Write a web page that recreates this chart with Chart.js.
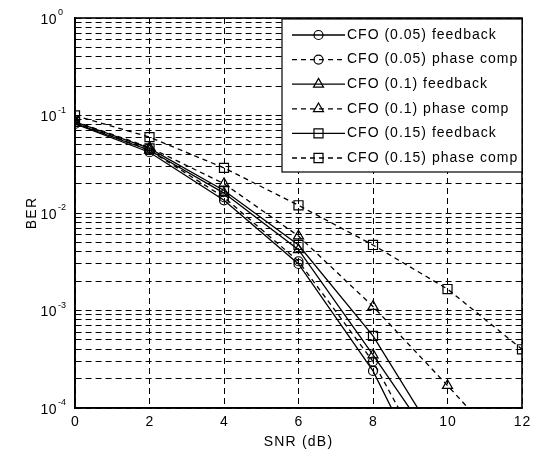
<!DOCTYPE html>
<html>
<head>
<meta charset="utf-8">
<title>BER vs SNR</title>
<script src="https://cdn.jsdelivr.net/npm/chart.js@4/dist/chart.umd.min.js"></script>
<style>
  html, body { margin: 0; padding: 0; background: #fff; }
  #wrap { width: 543px; height: 456px; }
</style>
</head>
<body>
<div id="wrap"><canvas id="berChart" width="543" height="456"></canvas></div>
<script>
// SNR points (dB)
const snr = [0, 2, 4, 6, 8, 10, 12];
const xTicks = [0, 2, 4, 6, 8, 10, 12];
const decades = [-4, -3, -2, -1, 0];
const minorSteps = [2, 3, 4, 5, 6, 7, 8, 9];

// BER (values below 1e-4 only set where a line leaves the plot)
const cfo005Feedback = [0.082, 0.042, 0.0135, 0.0030, 0.00024, 0.000007, null];
const cfo005Phase = [0.085, 0.044, 0.0145, 0.0032, 0.0003, 0.000012, null];
const cfo01Feedback = [0.083, 0.044, 0.016, 0.0042, 0.00035, 0.000027, null];
const cfo01Phase = [0.087, 0.047, 0.020, 0.0058, 0.0011, 0.00017, 0.000025];
const cfo015Feedback = [0.086, 0.046, 0.017, 0.0047, 0.00055, 0.000032, null];
const cfo015Phase = [0.1, 0.06, 0.029, 0.012, 0.0047, 0.00166, 0.0004];

const seriesNames = [
  "CFO (0.05) feedback",
  "CFO (0.05) phase comp",
  "CFO (0.1) feedback",
  "CFO (0.1) phase comp",
  "CFO (0.15) feedback",
  "CFO (0.15) phase comp",
];

const FONT = '"Liberation Sans", Arial, Helvetica, sans-serif';
const solid = [];
const dashed = [5, 4];

function makeSet(label, values, marker, radius, dash) {
  return {
    label: label,
    data: values.map((v, i) => ({ x: snr[i], y: v })),
    borderColor: "#000",
    backgroundColor: "rgba(0,0,0,0)",
    borderWidth: 1.3,
    borderDash: dash,
    pointStyle: marker,
    pointRadius: radius,
    pointBorderWidth: 1.2,
    pointBorderColor: "#000",
    pointBackgroundColor: "rgba(0,0,0,0)",
    spanGaps: false,
    tension: 0,
  };
}

const datasets = [
  makeSet(seriesNames[0], cfo005Feedback, "circle", 4.5, solid),
  makeSet(seriesNames[1], cfo005Phase, "circle", 4.5, dashed),
  makeSet(seriesNames[2], cfo01Feedback, "triangle", 5.8, solid),
  makeSet(seriesNames[3], cfo01Phase, "triangle", 5.8, dashed),
  makeSet(seriesNames[4], cfo015Feedback, "rect", 6.4, solid),
  makeSet(seriesNames[5], cfo015Phase, "rect", 6.4, dashed),
];

function yTickValues() {
  const out = [];
  decades.forEach((e) => {
    out.push(Math.pow(10, e));
    if (e < 0) minorSteps.forEach((m) => out.push(m * Math.pow(10, e)));
  });
  return out;
}

function drawMarker(ctx, style, r, cx, cy) {
  ctx.beginPath();
  if (style === "circle") {
    ctx.arc(cx, cy, r, 0, Math.PI * 2);
  } else if (style === "triangle") {
    ctx.moveTo(cx, cy - r);
    ctx.lineTo(cx + r * Math.sin(Math.PI / 3), cy + r / 2);
    ctx.lineTo(cx - r * Math.sin(Math.PI / 3), cy + r / 2);
    ctx.closePath();
  } else {
    const s = r * Math.SQRT1_2;
    ctx.rect(cx - s, cy - s, 2 * s, 2 * s);
  }
  ctx.stroke();
}

const textPlugin = {
  id: "matlabText",
  afterDraw(chart) {
    const { ctx, chartArea: a, scales } = chart;
    const x = scales.x;
    const y = scales.y;
    ctx.save();

    // axes box
    ctx.setLineDash([]);
    ctx.strokeStyle = "#000";
    ctx.lineWidth = 1.6;
    ctx.strokeRect(a.left, a.top, a.right - a.left, a.bottom - a.top);

    // x tick labels
    ctx.fillStyle = "#000";
    ctx.font = "14px " + FONT;
    ctx.letterSpacing = "1px";
    ctx.textAlign = "center";
    ctx.textBaseline = "middle";
    xTicks.forEach((v) => ctx.fillText(String(v), x.getPixelForValue(v) + 0.5, a.bottom + 14));

    // y tick labels 10^n
    decades.forEach((e) => {
      const py = y.getPixelForValue(Math.pow(10, e));
      ctx.font = "14px " + FONT;
      ctx.letterSpacing = "0.5px";
      ctx.textAlign = "right";
      ctx.fillText("10", a.left - 18, py + 2);
      ctx.font = "9px " + FONT;
      ctx.letterSpacing = "0px";
      ctx.textAlign = "left";
      ctx.fillText(String(e), a.left - 17, py - 5);
    });

    // axis titles
    ctx.font = "14px " + FONT;
    ctx.letterSpacing = "1.2px";
    ctx.textAlign = "center";
    ctx.fillText("SNR (dB)", (a.left + a.right) / 2, a.bottom + 34);
    ctx.save();
    ctx.translate(32, (a.top + a.bottom) / 2);
    ctx.rotate(-Math.PI / 2);
    ctx.fillText("BER", 0, 0);
    ctx.restore();

    // legend
    const lx = 282, ly = 19, lw = a.right - 282, lh = 153;
    ctx.fillStyle = "#fff";
    ctx.fillRect(lx, ly, lw, lh);
    ctx.strokeStyle = "#000";
    ctx.lineWidth = 1.2;
    ctx.strokeRect(lx, ly, lw, lh);
    chart.data.datasets.forEach((ds, i) => {
      const cy = ly + 16 + i * 24.6;
      ctx.strokeStyle = "#000";
      ctx.lineWidth = 1.3;
      ctx.setLineDash(ds.borderDash);
      ctx.beginPath();
      ctx.moveTo(292, cy);
      ctx.lineTo(345, cy);
      ctx.stroke();
      ctx.setLineDash([]);
      ctx.lineWidth = 1.2;
      drawMarker(ctx, ds.pointStyle, ds.pointRadius, 318.5, cy);
      ctx.fillStyle = "#000";
      ctx.font = "14px " + FONT;
      ctx.letterSpacing = "1px";
      ctx.textAlign = "left";
      ctx.textBaseline = "middle";
      ctx.fillText(ds.label, 347, cy);
    });

    ctx.restore();
  },
};

function mainEvent() {
  const target = document.getElementById("berChart");
  new Chart(target, {
    type: "line",
    data: { datasets: datasets },
    options: {
      responsive: false,
      animation: false,
      devicePixelRatio: 1,
      layout: { padding: { top: 18, right: 21, left: 0, bottom: 0 } },
      plugins: {
        legend: { display: false },
        tooltip: { enabled: false },
      },
      scales: {
        x: {
          type: "linear",
          min: 0,
          max: 12,
          afterFit: (scale) => { scale.height = 48; },
          afterBuildTicks: (scale) => { scale.ticks = xTicks.map((v) => ({ value: v })); },
          ticks: { display: false },
          grid: { color: "#000", lineWidth: 1, drawTicks: false },
          border: { display: true, color: "#000", width: 1.6, dash: [6, 4] },
        },
        y: {
          type: "logarithmic",
          min: 1e-4,
          max: 1,
          afterFit: (scale) => { scale.width = 75; },
          afterBuildTicks: (scale) => { scale.ticks = yTickValues().map((v) => ({ value: v })); },
          ticks: { display: false },
          grid: { color: "#000", lineWidth: 1, drawTicks: false },
          border: { display: true, color: "#000", width: 1.6, dash: [6, 4] },
        },
      },
    },
    plugins: [textPlugin],
  });
}

document.addEventListener("DOMContentLoaded", () => mainEvent());
</script>
</body>
</html>
